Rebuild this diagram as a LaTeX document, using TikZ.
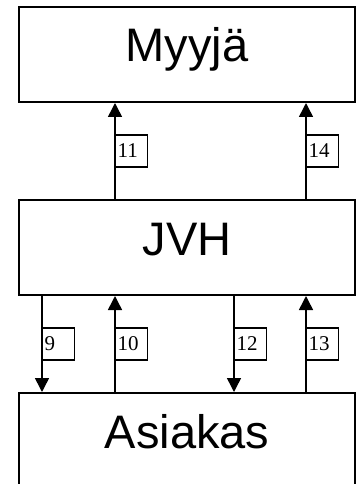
\documentclass[tikz,border=0pt]{standalone}
\usepackage{fontspec}
\setmainfont{Liberation Serif}
\newfontfamily\boxfont{Liberation Sans}
\usetikzlibrary{arrows.meta, positioning}
\def\boxwidth{336pt}
\def\boxlinewidth{2pt}
\def\flowlinewidth{1.5pt}
\def\boxgap{96pt}
\def\tagsize{32pt}
\tikzset{
	% party boxes
	party/.style={
		draw,
		line width=\boxlinewidth,
		shape=rectangle,
		minimum width=\boxwidth,
		inner ysep=0pt,
		text height=55pt,
		text depth=40pt,
		font=\boxfont\fontsize{47}{50}\selectfont,
	},
	% message flows
	flow/.style={
		line width=\flowlinewidth,
		-{Triangle[length=14pt,width=14pt]},
	},
	% step numbers
	tag/.style={
		draw,
		line width=1.3pt,
		fill=white,
		anchor=west,
		minimum height=\tagsize,
		text width=\tagsize-4pt,
		inner xsep=2pt,
		inner ysep=0pt,
		font=\fontsize{21}{23}\selectfont,
	}
}
\begin{document}
\begin{tikzpicture}
	\useasboundingbox (0,0) rectangle (357pt,-484pt);
	\node[
		party,
		anchor=north
	] (myyja) at (187pt,-6pt) {Myyjä};
	%
	\node[
		party,
		below=\boxgap of myyja
	] (jvh) {JVH};
	%
	\node[
		party,
		below=\boxgap of jvh,
		text depth=60pt
	] (asiakas) {Asiakas};
	%
	\draw[flow] ([xshift=97pt]jvh.north west) -- node[tag] {11} ([xshift=97pt]myyja.south west);
	\draw[flow] ([xshift=288pt]jvh.north west) -- node[tag] {14} ([xshift=288pt]myyja.south west);
	%
	\draw[flow] ([xshift=24pt]jvh.south west) -- node[tag] {9} ([xshift=24pt]asiakas.north west);
	\draw[flow] ([xshift=97pt]asiakas.north west) -- node[tag] {10} ([xshift=97pt]jvh.south west);
	\draw[flow] ([xshift=216pt]jvh.south west) -- node[tag] {12} ([xshift=216pt]asiakas.north west);
	\draw[flow] ([xshift=288pt]asiakas.north west) -- node[tag] {13} ([xshift=288pt]jvh.south west);
\end{tikzpicture}
\end{document}
